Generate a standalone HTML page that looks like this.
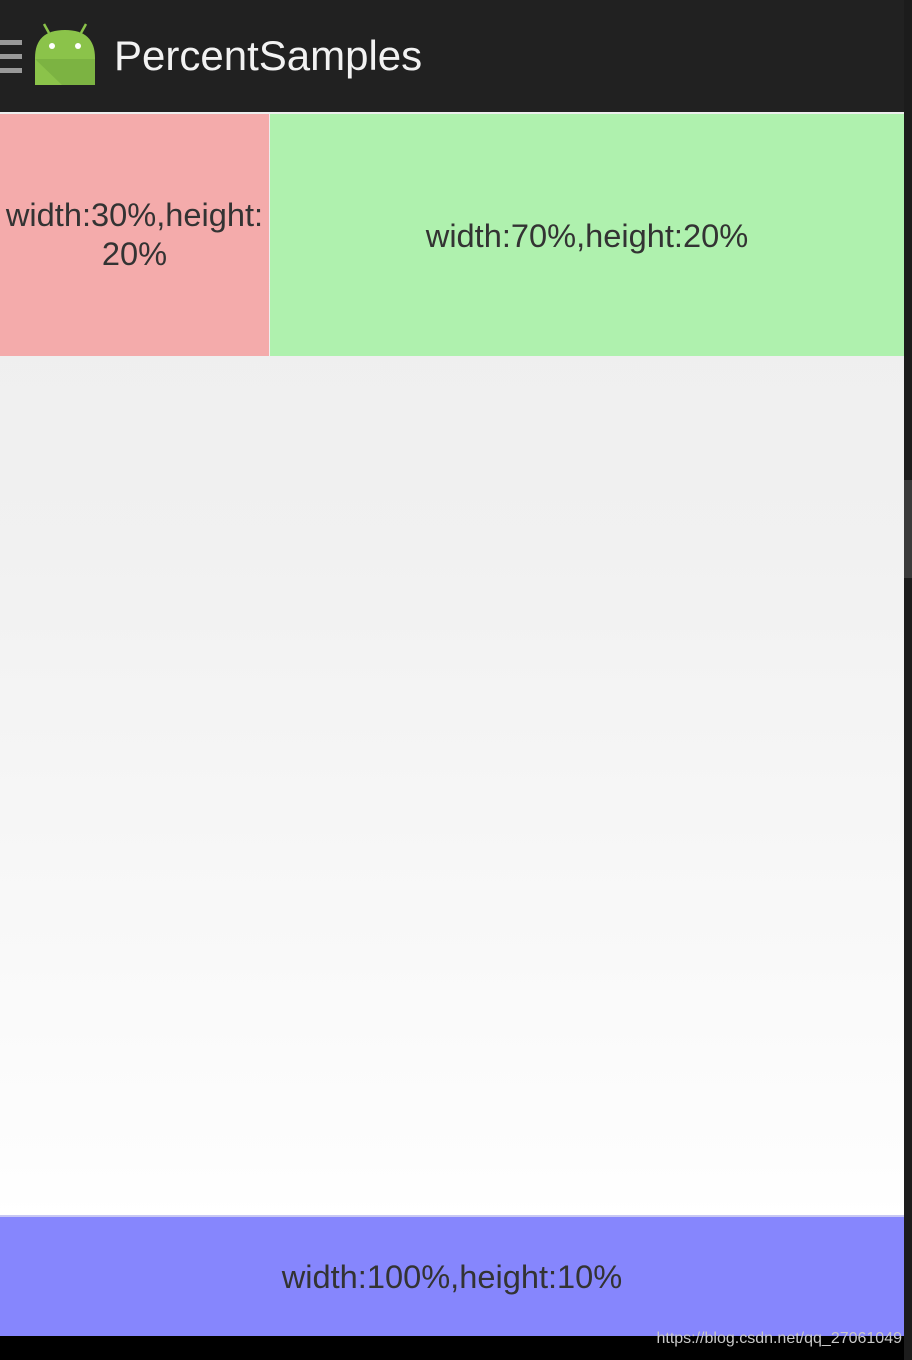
<!DOCTYPE html>
<html><head><meta charset="utf-8"><style>
body{margin:0;width:912px;height:1360px;background:#000;position:relative;overflow:hidden;font-family:"Liberation Sans",sans-serif}
div{position:absolute;box-sizing:border-box}
.t{color:#333;font-size:32.6px;text-align:center;display:flex;align-items:center;justify-content:center;line-height:39px}
</style></head><body>
<div style="left:904px;top:0;width:8px;height:1360px;background:#1c1c1c"></div>
<div style="left:904px;top:480px;width:8px;height:98px;background:#3a3a3a"></div>
<div style="left:0;top:0;width:904px;height:112px;background:#212121">
 <div style="left:0;top:40px;width:22px;height:34px;background:linear-gradient(#999 0 5px,transparent 5px 14px,#999 14px 19px,transparent 19px 28px,#999 28px 33px,transparent 33px)"></div>
 <svg style="position:absolute;left:34px;top:22px" width="64" height="66" viewBox="0 0 64 66">
  <line x1="10" y1="2" x2="15" y2="11" stroke="#8bc34a" stroke-width="2.5"/><line x1="52" y1="2" x2="47" y2="11" stroke="#8bc34a" stroke-width="2.5"/>
  <path d="M1 36 Q1 8 31 8 Q61 8 61 36 L61 63 L1 63 Z" fill="#8bc34a"/>
  <path d="M1 37 L61 37 L61 63 L28 63 Z" fill="#7cb342"/>
  <circle cx="18" cy="24" r="3" fill="#fff"/><circle cx="44" cy="24" r="3" fill="#fff"/>
 </svg>
 <div style="left:114px;top:32px;color:#f2f2f2;font-size:42px;line-height:48px">PercentSamples</div>
</div>
<div style="left:0;top:112px;width:904px;height:1104px;background:linear-gradient(#ededed,#f1f1f1 40%,#fdfdfd 95%,#fff)"></div>
<div class="t" style="left:0;top:114px;width:269px;height:242px;background:#f4abab;padding-bottom:3px">width:30%,height:<br>20%</div>
<div class="t" style="left:270px;top:114px;width:634px;height:242px;background:#aff1ae">width:70%,height:20%</div>
<div class="t" style="left:0;top:1215px;width:904px;height:121px;background:#8686fd;border-top:2px solid #c8c8f4">width:100%,height:10%</div>
<div style="left:560px;top:1330px;width:342px;text-align:right;color:#c8c8c8;font-size:16px">https://blog.csdn.net/qq_27061049</div>
</body></html>
